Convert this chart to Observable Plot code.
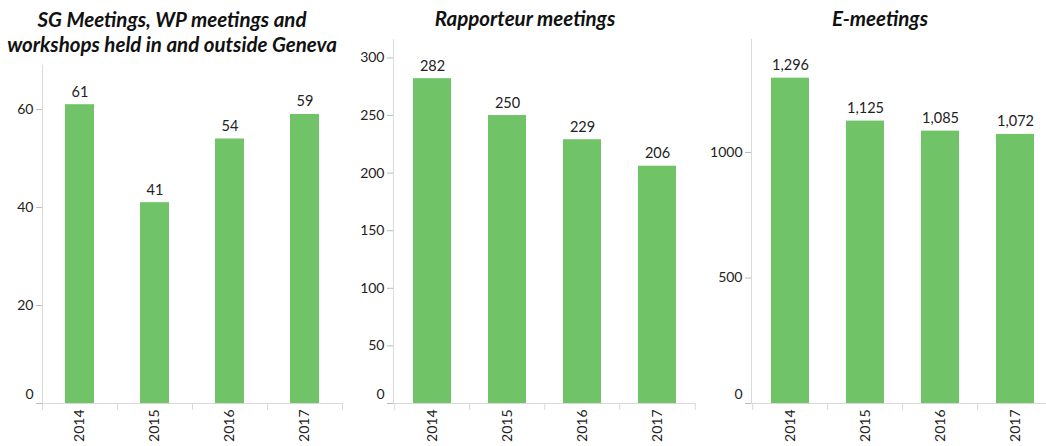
<!DOCTYPE html>
<html><head><meta charset="utf-8">
<script src="https://cdn.jsdelivr.net/npm/d3@7"></script>
<script src="https://cdn.jsdelivr.net/npm/@observablehq/plot@0.6"></script>
<style>
body{margin:0;width:1046px;height:446px;overflow:hidden;background:#fff;font-family:Lato,sans-serif;}
#wrap{position:relative;width:1046px;height:446px;overflow:hidden;}
.panel{position:absolute;top:0;}
.panel svg{max-width:none !important;}
.title{position:absolute;font-weight:bold;font-style:italic;font-size:20.5px;line-height:25px;text-align:center;color:#111;white-space:pre;transform:translateX(-50%);}
</style></head><body><div id="wrap"></div>
<script>
const years = ["2014", "2015", "2016", "2017"];
const sgValues = [61, 41, 54, 59];
const rapValues = [282, 250, 229, 206];
const eValues = [1296, 1125, 1085, 1072];
const sgTicks = [0, 20, 40, 60];
const rapTicks = [0, 50, 100, 150, 200, 250, 300];
const eTicks = [0, 500, 1000];
const titles = [
  "SG Meetings, WP meetings and\nworkshops held in and outside Geneva",
  "Rapporteur meetings",
  "E-meetings"
];

const panels = [
  {values: sgValues, ticks: sgTicks, title: titles[0], left: 0, width: 350, mL: 42, mR: 8, mT: 65, max: 69, pad: 0.61, tx: 172, ty: 7},
  {values: rapValues, ticks: rapTicks, title: titles[1], left: 350, width: 350, mL: 43, mR: 5, mT: 39, max: 316, pad: 0.5, tx: 525, ty: 6},
  {values: eValues, ticks: eTicks, title: titles[2], left: 700, width: 360, mL: 51, mR: 6, mT: 39, max: 1450, pad: 0.5, tx: 880, ty: 6}
];

const wrap = document.getElementById("wrap");
const green = "#70c467";
const axisGray = "#d9d9d9";

for (const p of panels) {
  const data = years.map((y, i) => ({year: y, value: p.values[i]}));
  const step = (p.width - p.mL - p.mR) / years.length;
  const fmt = d3.format(",");
  const chart = Plot.plot({
    width: p.width,
    height: 446,
    marginLeft: p.mL,
    marginRight: p.mR,
    marginTop: p.mT,
    marginBottom: 43,
    style: {fontFamily: "Lato, sans-serif", fontSize: "14px", color: "#222", background: "transparent", overflow: "visible", maxWidth: "none"},
    x: {domain: years, paddingInner: p.pad, paddingOuter: p.pad / 2, axis: null},
    y: {domain: [0, p.max], axis: null},
    marks: [
      Plot.frame({anchor: "left", stroke: axisGray}),
      Plot.ruleY([0], {stroke: axisGray}),
      Plot.ruleX(years, {x: d => d, y1: 0, y2: 0, dx: -step / 2, insetBottom: -7, stroke: axisGray}),
      Plot.ruleX(years.slice(-1), {x: d => d, y1: 0, y2: 0, dx: step / 2, insetBottom: -7, stroke: axisGray}),
      Plot.barY(data, {x: "year", y: "value", fill: green}),
      Plot.text(data, {x: "year", y: "value", text: d => fmt(d.value), dy: -8, lineAnchor: "bottom", fill: "#222", fontSize: 14.5}),
      Plot.axisY(p.ticks.filter(t => t !== 0), {tickSize: 6, tickPadding: 3, stroke: "#bbb", fill: "#222", label: null, tickFormat: d => String(d)}),
      Plot.axisY([0], {tickSize: 6, tickPadding: 3, stroke: "#bbb", text: null, label: null}),
      Plot.axisY([0], {tickSize: 0, tickPadding: 9, fill: "#222", dy: -9, label: null, tickFormat: d => String(d)}),
      Plot.axisX({tickSize: 0, tickPadding: 6, tickRotate: -90, fill: "#222", label: null})
    ]
  });
  const div = document.createElement("div");
  div.className = "panel";
  div.style.left = p.left + "px";
  div.style.width = p.width + "px";
  div.appendChild(chart);
  wrap.appendChild(div);
  const t = document.createElement("div");
  t.className = "title";
  t.style.left = p.tx + "px";
  t.style.top = p.ty + "px";
  t.textContent = p.title;
  wrap.appendChild(t);
}
</script>
</body></html>
